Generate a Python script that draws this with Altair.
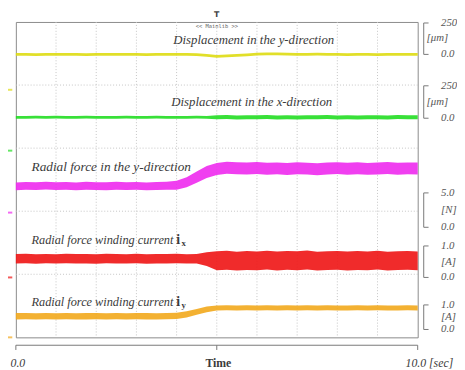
import altair as alt
import pandas as pd

# ---------------- data (display units: one vertical division = 1.0) ----------------
time_s = [0.0, 0.25, 0.5, 0.75, 1.0, 1.25, 1.5, 1.75, 2.0, 2.25, 2.5, 2.75, 3.0, 3.25,
          3.5, 3.75, 4.0, 4.25, 4.5, 4.75, 5.0, 5.25, 5.5, 5.75, 6.0, 6.25, 6.5, 6.75,
          7.0, 7.25, 7.5, 7.75, 8.0, 8.25, 8.5, 8.75, 9.0, 9.25, 9.5, 9.75, 10.0]

disp_y_center = [4.486, 4.488, 4.484, 4.487, 4.485, 4.488, 4.486, 4.483, 4.487, 4.486,
                 4.488, 4.485, 4.487, 4.484, 4.486, 4.488, 4.485, 4.487, 4.484, 4.470,
                 4.455, 4.462, 4.472, 4.480, 4.490, 4.495, 4.493, 4.490, 4.488, 4.486,
                 4.489, 4.485, 4.487, 4.484, 4.488, 4.486, 4.483, 4.487, 4.485, 4.488, 4.486]
disp_y_half = [0.022] * 41

disp_x_center = [3.489, 3.487, 3.490, 3.488, 3.491, 3.486, 3.489, 3.490, 3.487, 3.489,
                 3.488, 3.491, 3.486, 3.489, 3.490, 3.487, 3.489, 3.488, 3.490, 3.487,
                 3.489, 3.492, 3.486, 3.490, 3.488, 3.493, 3.487, 3.491, 3.486, 3.490,
                 3.489, 3.492, 3.487, 3.490, 3.486, 3.491, 3.489, 3.487, 3.492, 3.488, 3.490]
disp_x_half = [0.022] * 20 + [0.032] * 21

force_y_center = [2.395, 2.402, 2.398, 2.405, 2.397, 2.401, 2.394, 2.403, 2.399, 2.396,
                  2.404, 2.398, 2.401, 2.395, 2.400, 2.403, 2.412, 2.460, 2.540, 2.620,
                  2.670, 2.690, 2.682, 2.676, 2.684, 2.672, 2.679, 2.668, 2.681, 2.675,
                  2.665, 2.678, 2.683, 2.674, 2.680, 2.671, 2.677, 2.685, 2.673, 2.679, 2.676]
force_y_half = [0.062] * 16 + [0.07, 0.08, 0.09, 0.095, 0.095, 0.095, 0.095] + [0.095] * 18

current_x_center = [1.246, 1.250, 1.243, 1.248, 1.244, 1.251, 1.245, 1.247, 1.242, 1.249,
                    1.246, 1.244, 1.250, 1.243, 1.247, 1.245, 1.249, 1.244, 1.246, 1.240,
                    1.215, 1.222, 1.208, 1.218, 1.212, 1.225, 1.210, 1.220, 1.214, 1.226,
                    1.209, 1.217, 1.221, 1.211, 1.219, 1.213, 1.224, 1.208, 1.216, 1.220, 1.212]
current_x_half = [0.075] * 19 + [0.11] + [0.15] * 21

current_y_center = [0.335, 0.338, 0.333, 0.336, 0.334, 0.337, 0.332, 0.335, 0.338, 0.334,
                    0.336, 0.333, 0.337, 0.335, 0.332, 0.336, 0.340, 0.365, 0.405, 0.445,
                    0.464, 0.468, 0.466, 0.469, 0.465, 0.468, 0.467, 0.470, 0.464, 0.468,
                    0.466, 0.469, 0.465, 0.467, 0.470, 0.466, 0.468, 0.464, 0.467, 0.469, 0.466]
current_y_half = [0.05] * 18 + [0.045] * 2 + [0.04] * 21

# trace names and colours
trace_names = ["disp_y", "disp_x", "force_y", "current_x", "current_y"]
trace_colors = ["#dedc12", "#22dd22", "#ee2aee", "#ee1414", "#f2a81c"]

# right-hand scale brackets (top value, unit, bottom value)
bracket_top_labels = ["250", "250", "5.0", "1.0", "1.0"]
bracket_unit_labels = ["[\u03bcm]", "[\u03bcm]", "[N]", "[A]", "[A]"]
bracket_bottom_labels = ["0.0", "0.0", "0.0", "0.0", "0.0"]

trace_titles = ["Displacement in the y-direction", "Displacement in the x-direction",
                "Radial force in the y-direction", "Radial force winding current ",
                "Radial force winding current "]
time_labels = ["0.0", "Time", "10.0 [sec]"]

# ---------------- layout constants ----------------
X = alt.Scale(domain=[0, 10], nice=False, zero=False)
Y = alt.Scale(domain=[0, 5], nice=False, zero=False)
SERIF = "Liberation Serif"
TXT = "#3a3a3a"

br_top = [4.984, 3.988, 2.29, 1.449, 0.514]
br_unit = [4.751, 3.738, 2.025, 1.199, 0.327]
br_bot = [4.486, 3.474, 1.745, 0.950, 0.125]
br_x, br_x2 = 10.15, 10.27


def xq(f="t"):
    return alt.X(f"{f}:Q", scale=X, axis=None)


def yq(f="y"):
    return alt.Y(f"{f}:Q", scale=Y, axis=None)


layers = []

# grid
layers.append(alt.Chart(pd.DataFrame({"t": [1, 2, 3, 4, 5, 6, 7, 8, 9]})).mark_rule(
    color="#c4c4c4", strokeDash=[1, 2], strokeWidth=1).encode(x=xq()))
layers.append(alt.Chart(pd.DataFrame({"y": [1, 2, 3, 4]})).mark_rule(
    color="#c4c4c4", strokeDash=[1, 2], strokeWidth=1).encode(y=yq()))

# traces as noise bands
centers = [disp_y_center, disp_x_center, force_y_center, current_x_center, current_y_center]
halves = [disp_y_half, disp_x_half, force_y_half, current_x_half, current_y_half]
for name, c, h, col in zip(trace_names, centers, halves, trace_colors):
    df = pd.DataFrame({"t": time_s,
                       "lo": [a - b for a, b in zip(c, h)],
                       "hi": [a + b for a, b in zip(c, h)]})
    layers.append(alt.Chart(df).mark_area(color=col, opacity=0.9).encode(
        x=xq(), y=yq("lo"), y2="hi:Q"))

# left ground markers
mk = pd.DataFrame({"t": [-0.15] * 5, "y": [3.925, 2.96, 1.978, 0.95, 0.0], "c": trace_colors})
layers.append(alt.Chart(mk).mark_tick(orient="horizontal", size=5, thickness=2).encode(
    x=xq(), y=yq(), color=alt.Color("c:N", scale=None)))

# right brackets
bdf = pd.DataFrame({"x": [br_x] * 5, "x2": [br_x2] * 5, "top": br_top, "bot": br_bot})
layers.append(alt.Chart(bdf).mark_rule(color="#777", strokeWidth=1).encode(
    x=xq("x"), y=yq("top"), y2="bot:Q"))
layers.append(alt.Chart(bdf).mark_rule(color="#777", strokeWidth=1).encode(
    x=xq("x"), x2="x2:Q", y=yq("top")))
layers.append(alt.Chart(bdf).mark_rule(color="#777", strokeWidth=1).encode(
    x=xq("x"), x2="x2:Q", y=yq("bot")))

blab = pd.DataFrame({
    "t": [10.58] * 5 + [10.22, 10.22, 10.58, 10.58, 10.58] + [10.58] * 5,
    "y": br_top + br_unit + br_bot,
    "s": bracket_top_labels + bracket_unit_labels + bracket_bottom_labels})
layers.append(alt.Chart(blab).mark_text(align="left", baseline="middle", font=SERIF,
                                        fontStyle="italic", fontSize=11, color="#555").encode(
    x=xq(), y=yq(), text="s:N"))

# trace titles
ttl = pd.DataFrame({"t": [5.92, 5.87], "y": [4.72, 3.738], "s": trace_titles[:2]})
layers.append(alt.Chart(ttl).mark_text(align="center", baseline="middle", font=SERIF,
                                       fontStyle="italic", fontSize=13, color=TXT).encode(
    x=xq(), y=yq(), text="s:N"))
ttl_f = pd.DataFrame({"t": [0.39], "y": [2.695], "s": [trace_titles[2]]})
layers.append(alt.Chart(ttl_f).mark_text(align="left", baseline="middle", font=SERIF,
                                         fontStyle="italic", fontSize=13.5, color=TXT).encode(
    x=xq(), y=yq(), text="s:N"))
ttl2 = pd.DataFrame({"t": [0.39] * 2, "y": [1.542, 0.561], "s": trace_titles[3:]})
layers.append(alt.Chart(ttl2).mark_text(align="left", baseline="middle", font=SERIF,
                                        fontStyle="italic", fontSize=12.5, color=TXT).encode(
    x=xq(), y=yq(), text="s:N"))
ivar = pd.DataFrame({"t": [3.99, 3.99], "y": [1.542, 0.561], "s": ["i", "i"]})
layers.append(alt.Chart(ivar).mark_text(align="left", baseline="middle", font=SERIF,
                                        fontWeight="bold", fontSize=14, color=TXT).encode(
    x=xq(), y=yq(), text="s:N"))
isub = pd.DataFrame({"t": [4.12, 4.12], "y": [1.49, 0.51], "s": ["x", "y"]})
layers.append(alt.Chart(isub).mark_text(align="left", baseline="middle", font=SERIF,
                                        fontWeight="bold", fontSize=9, color=TXT).encode(
    x=xq(), y=yq(), text="s:N"))

# top markers
layers.append(alt.Chart(pd.DataFrame({"t": [5.0], "y": [4.938], "s": ["<< Mainlib >>"]})).mark_text(
    align="center", baseline="middle", font="DejaVu Sans Mono", fontSize=5.5, color="#666").encode(
    x=xq(), y=yq(), text="s:N"))
layers.append(alt.Chart(pd.DataFrame({"t": [5.0], "y": [5.11], "s": ["T"]})).mark_text(
    align="center", baseline="middle", font="DejaVu Sans", fontWeight="bold", fontSize=8,
    color="#444").encode(x=xq(), y=yq(), text="s:N"))

# bottom time axis bracket
axl = pd.DataFrame({"x": [0.0], "x2": [10.0], "y": [-0.125]})
layers.append(alt.Chart(axl).mark_rule(color="#777", strokeWidth=1).encode(
    x=xq("x"), x2="x2:Q", y=yq()))
axt = pd.DataFrame({"t": [0.0, 5.0, 10.0], "y": [-0.125] * 3, "y2": [-0.2] * 3})
layers.append(alt.Chart(axt).mark_rule(color="#777", strokeWidth=1).encode(
    x=xq(), y=yq(), y2="y2:Q"))
tl = pd.DataFrame({"t": [0.05, 10.29], "y": [-0.4, -0.4], "s": [time_labels[0], time_labels[2]]})
layers.append(alt.Chart(tl).mark_text(align="center", baseline="middle", font=SERIF,
                                      fontStyle="italic", fontSize=12, color=TXT).encode(
    x=xq(), y=yq(), text="s:N"))
layers.append(alt.Chart(pd.DataFrame({"t": [5.04], "y": [-0.4], "s": [time_labels[1]]})).mark_text(
    align="center", baseline="middle", font=SERIF, fontWeight="bold", fontSize=12,
    color=TXT).encode(x=xq(), y=yq(), text="s:N"))

chart = alt.layer(*layers).properties(
    width=409, height=321,
    autosize=alt.AutoSizeParams(type="none"),
    padding={"left": 8, "top": 11, "right": 40, "bottom": 30},
    background="white",
).configure_view(stroke="#8a8a8a", strokeWidth=1)

chart.save("out.html", embed_options={"renderer": "svg", "actions": False})
